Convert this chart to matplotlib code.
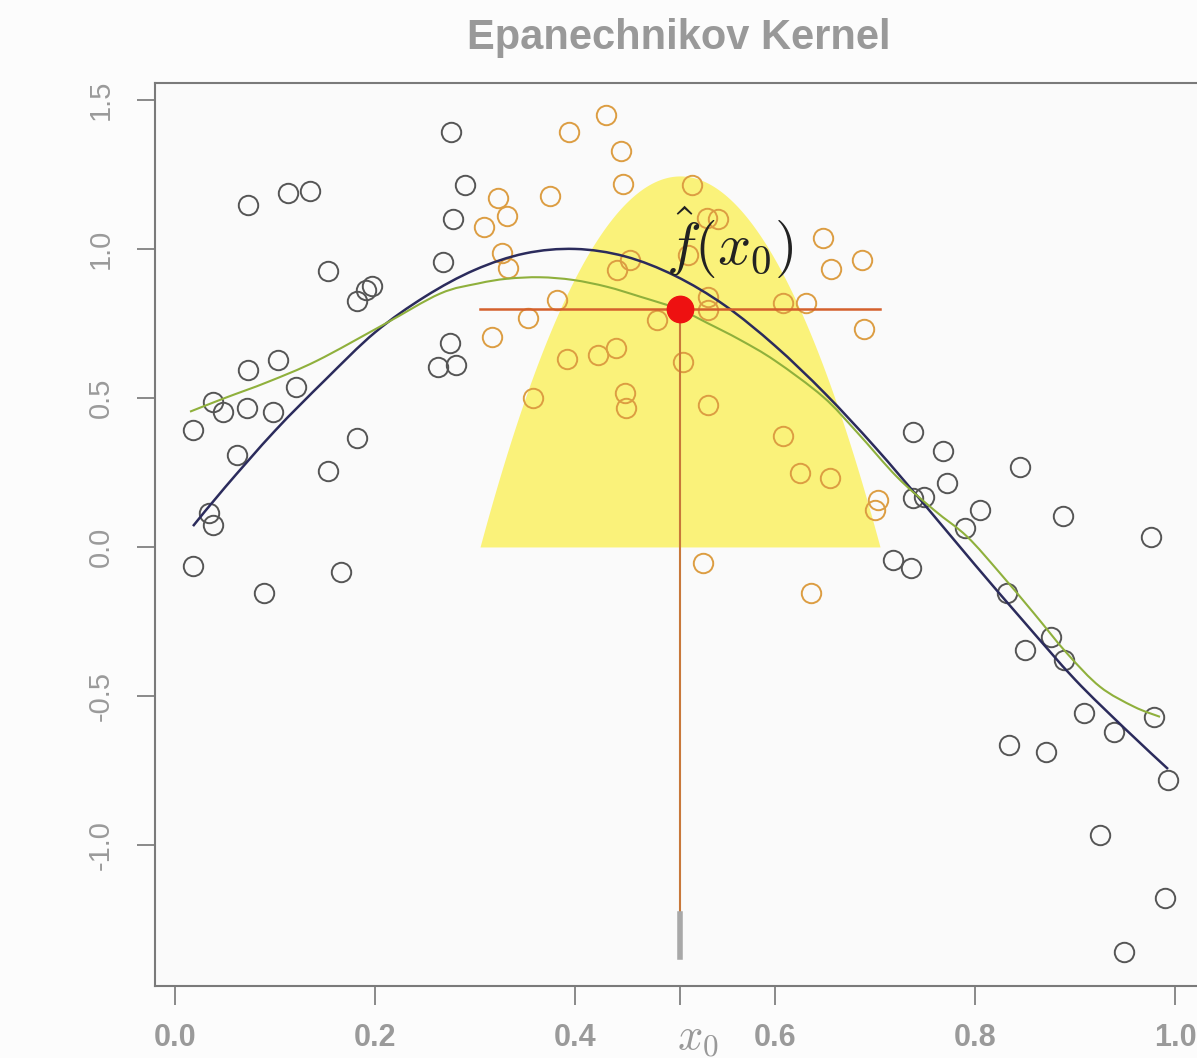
import matplotlib.pyplot as plt
import numpy as np
from matplotlib.path import Path
from matplotlib.patches import PathPatch

plt.rcParams['mathtext.fontset'] = 'cm'
plt.rcParams['font.family'] = ['Liberation Sans', 'DejaVu Sans']

# observed sample (x, y)
x_pts = [0.018, 0.018, 0.034, 0.038, 0.038, 0.048, 0.062, 0.072, 0.073, 0.073,
         0.089, 0.098, 0.103, 0.113, 0.121, 0.135, 0.153, 0.153, 0.166, 0.182,
         0.182, 0.191, 0.197, 0.263, 0.268, 0.275, 0.276, 0.278, 0.281, 0.290,
         0.309, 0.317, 0.323, 0.327, 0.332, 0.333, 0.353, 0.358, 0.375, 0.382,
         0.392, 0.394, 0.423, 0.431, 0.441, 0.442, 0.446, 0.448, 0.450, 0.451,
         0.455, 0.482, 0.508, 0.513, 0.517, 0.528, 0.532, 0.543, 0.533, 0.533,
         0.533, 0.608, 0.608, 0.625, 0.631, 0.636, 0.648, 0.655, 0.656, 0.687,
         0.689, 0.703, 0.700,
         0.718, 0.736, 0.738, 0.738, 0.749, 0.768, 0.772, 0.790, 0.805, 0.832,
         0.834, 0.845, 0.850, 0.871, 0.876, 0.888, 0.889, 0.909, 0.925, 0.939,
         0.949, 0.976, 0.979, 0.990, 0.993]
y_pts = [0.393, -0.064, 0.113, 0.074, 0.488, 0.454, 0.309, 0.465, 0.594, 1.148,
         -0.155, 0.454, 0.628, 1.187, 0.538, 1.196, 0.926, 0.255, -0.083, 0.827,
         0.365, 0.862, 0.874, 0.605, 0.957, 0.683, 1.394, 1.100, 0.611, 1.215,
         1.075, 0.706, 1.170, 0.985, 1.111, 0.935, 0.767, 0.499, 1.176, 0.829,
         0.630, 1.394, 0.644, 1.450, 0.667, 0.930, 1.329, 1.217, 0.516, 0.466,
         0.963, 0.762, 0.622, 0.980, 1.215, -0.055, 1.103, 1.100, 0.840, 0.795,
         0.477, 0.820, 0.372, 0.247, 0.818, -0.155, 1.036, 0.233, 0.932, 0.963,
         0.732, 0.158, 0.124,
         -0.044, -0.069, 0.387, 0.163, 0.168, 0.323, 0.216, 0.063, 0.124, -0.153,
         -0.664, 0.267, -0.346, -0.687, -0.301, 0.104, -0.379, -0.558, -0.966, -0.620,
         -1.360, 0.033, -0.569, -1.179, -0.782]

# true regression function
true_x = [0.018, 0.05, 0.10, 0.15, 0.20, 0.25, 0.30, 0.35, 0.40, 0.45, 0.50,
          0.55, 0.60, 0.65, 0.70, 0.75, 0.80, 0.85, 0.90, 0.95, 0.993]
true_y = [0.07, 0.20, 0.39, 0.56, 0.72, 0.84, 0.93, 0.985, 1.00, 0.975, 0.91,
          0.81, 0.675, 0.515, 0.335, 0.14, -0.06, -0.255, -0.445, -0.61, -0.745]

# kernel-weighted fit
fit_x = [0.015, 0.05, 0.093, 0.142, 0.208, 0.265, 0.303, 0.332, 0.365, 0.398,
         0.432, 0.465, 0.504, 0.532, 0.565, 0.60, 0.648, 0.682, 0.722, 0.759,
         0.792, 0.825, 0.859, 0.892, 0.925, 0.959, 0.985]
fit_y = [0.454, 0.50, 0.554, 0.625, 0.745, 0.850, 0.884, 0.900, 0.905, 0.896,
         0.873, 0.840, 0.798, 0.752, 0.695, 0.625, 0.504, 0.385, 0.235, 0.124,
         0.035, -0.088, -0.223, -0.357, -0.469, -0.536, -0.57]

x0 = 0.505
fhat_x0 = 0.798
lam = 0.2
kernel_peak = 1.245

xtick_vals = [0.0, 0.2, 0.4, x0, 0.6, 0.8, 1.0]
xtick_labels = ['0.0', '0.2', '0.4', '', '0.6', '0.8', '1.0']
ytick_vals = [-1.0, -0.5, 0.0, 0.5, 1.0, 1.5]
ytick_labels = ['-1.0', '-0.5', '0.0', '0.5', '1.0', '1.5']


def smooth_line(xs, ys):
    # Catmull-Rom style cubic segments through the given vertices
    pts = np.column_stack([xs, ys])
    verts = [pts[0]]
    codes = [Path.MOVETO]
    n = len(pts)
    for i in range(n - 1):
        p0 = pts[max(i - 1, 0)]
        p1 = pts[i]
        p2 = pts[i + 1]
        p3 = pts[min(i + 2, n - 1)]
        verts += [p1 + (p2 - p0) / 6, p2 - (p3 - p1) / 6, p2]
        codes += [Path.CURVE4] * 3
    return Path(verts, codes)


x_pts = np.array(x_pts)
y_pts = np.array(y_pts)
inside = np.abs(x_pts - x0) <= lam + 1e-9

fig = plt.figure(figsize=(11.97, 10.58), dpi=100, facecolor='#fcfcfc')
ax = fig.add_axes([0.1295, 0.0681, 0.8772, 0.8535], facecolor='#fafafa')

# Epanechnikov weights over the window, scaled for display
kx = np.linspace(x0 - lam, x0 + lam, 300)
ky = kernel_peak * (1 - ((kx - x0) / lam) ** 2)
ax.fill_between(kx, 0, ky, color='#faf27a', lw=0, zorder=1)

ax.plot(x_pts[~inside], y_pts[~inside], 'o', mfc='none', mec='#555555',
        ms=14, mew=1.4, zorder=3)
ax.plot(x_pts[inside], y_pts[inside], 'o', mfc='none', mec='#dc9d42',
        ms=14, mew=1.4, zorder=3)

ax.add_patch(PathPatch(smooth_line(true_x, true_y), fill=False,
                       edgecolor='#2b2b5c', lw=1.8, zorder=4))
ax.add_patch(PathPatch(smooth_line(fit_x, fit_y), fill=False,
                       edgecolor='#8fb03c', lw=1.5, zorder=4))

ax.plot([x0 - lam, x0 + lam], [fhat_x0, fhat_x0], color='#d4602c', lw=1.8, zorder=5)
ax.plot([x0, x0], [fhat_x0, -1.23], color='#c8783a', lw=1.5, zorder=5)
ax.plot([x0, x0], [-1.23, -1.375], color='#a8a8a8', lw=4, zorder=5)
ax.plot(x0, fhat_x0, 'o', color='#ee1111', ms=19, zorder=6)

ax.text(0.555, 0.95, r'$\hat{f}(x_0)$', fontsize=42, ha='center',
        va='baseline', color='#222222', zorder=7)

ax.set_xlim(-0.02, 1.03)
ax.set_ylim(-1.473, 1.557)

ax.set_xticks(xtick_vals)
ax.set_xticklabels(xtick_labels, fontsize=22, fontweight='bold')
ax.set_yticks(ytick_vals)
ax.set_yticklabels(ytick_labels, fontsize=21, rotation=90, va='center')
ax.tick_params(axis='x', length=14, width=1.3, color='#808080', pad=13,
               labelcolor='#9a9a9a')
ax.tick_params(axis='y', length=13, width=1.3, color='#808080', pad=16,
               labelcolor='#9a9a9a')
for s in ax.spines.values():
    s.set_color('#7a7a7a')
    s.set_linewidth(1.5)

# x0 label under its tick
ax.text(x0 + 0.018, -0.058, r'$x_0$', transform=ax.get_xaxis_transform(),
        fontsize=32, ha='center', va='center', color='#999999')

fig.text(0.567, 1 - 38 / 1058, 'Epanechnikov Kernel', ha='center', va='center',
         fontsize=30, fontweight='bold', color='#999999')

fig.savefig('out.png', dpi=100, facecolor=fig.get_facecolor())
